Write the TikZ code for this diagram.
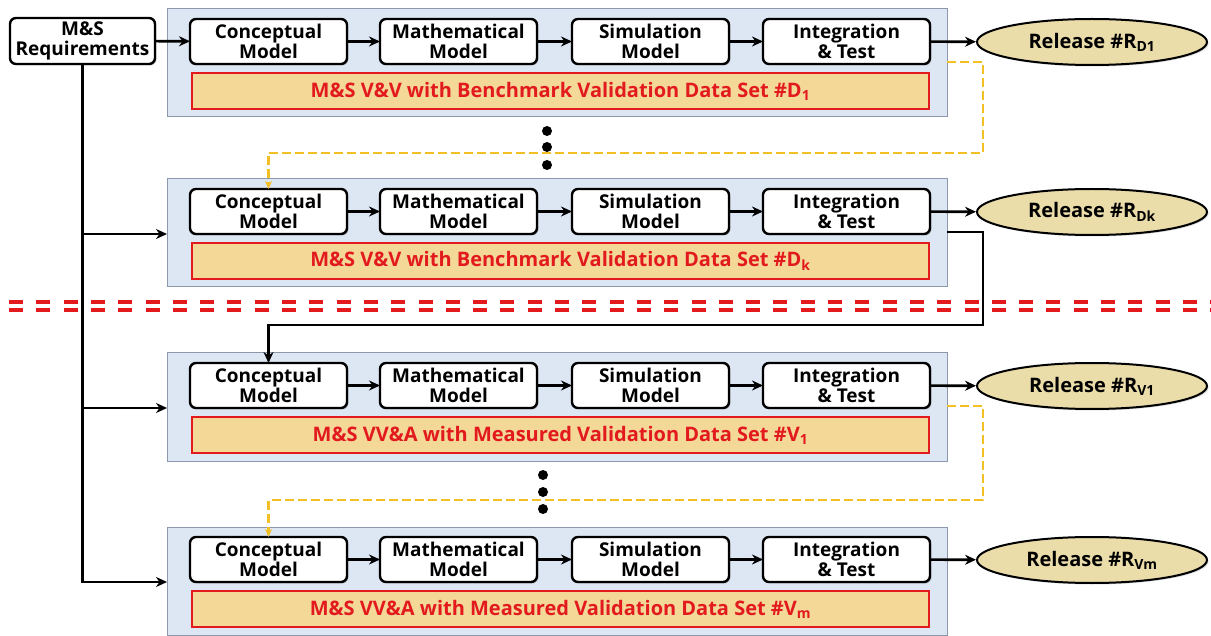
\documentclass[tikz,border=0pt]{standalone}
\usepackage{fontspec}
\setmainfont{Open Sans}
\usetikzlibrary{arrows.meta,shadows,calc,shapes.geometric}

\definecolor{panelfill}{RGB}{221,230,243}
\definecolor{paneldraw}{RGB}{140,152,172}
\definecolor{barfill}{RGB}{243,216,152}
\definecolor{barred}{RGB}{226,26,30}
\definecolor{relfill}{RGB}{235,221,170}
\definecolor{gold}{RGB}{242,192,36}

\tikzset{
  x=1pt, y=-1pt,
  txt/.style={font=\fontsize{19}{19.5}\selectfont\bfseries},
  bigtxt/.style={font=\fontsize{20}{21}\selectfont\bfseries},
  panel/.style={draw=paneldraw, fill=panelfill, line width=1pt,
    minimum width=780pt, minimum height=108pt, anchor=north west,
    inner sep=0pt, outer sep=0pt},
  stage/.style={txt, draw=black, fill=white, rounded corners=6pt, line width=2.4pt,
    minimum height=45pt, anchor=north west, inner sep=0pt, outer sep=0pt,
    align=center,
    drop shadow={shadow xshift=1.5pt, shadow yshift=-1.5pt, opacity=0.3}},
  vvbar/.style={bigtxt, draw=barred, fill=barfill, line width=1.8pt,
    minimum width=737pt, minimum height=36pt, anchor=north west,
    inner sep=0pt, outer sep=0pt, text=barred},
  release/.style={bigtxt, ellipse, draw=black, fill=relfill, line width=2pt,
    minimum width=230pt, minimum height=46pt, inner sep=0pt,
    drop shadow={shadow xshift=1.5pt, shadow yshift=-1.5pt, opacity=0.3}},
  flow/.style={line width=2.6pt, -{Stealth[length=11pt,width=10pt]}},
  loopback/.style={draw=gold, line width=2.2pt, dash pattern=on 9pt off 4pt,
    -{Stealth[length=8pt,width=7pt,fill=gold]}},
  divider/.style={draw=barred, line width=3.6pt, dash pattern=on 14pt off 13.3pt},
}

\begin{document}
\begin{tikzpicture}
\useasboundingbox (0,0) rectangle (1211,636);

% requirements box
\node[stage, minimum width=145pt, minimum height=46pt] (req) at (10,18)
  {M\&S\\Requirements};

% four development cycles
\foreach \r/\py/\bartext/\reltext in {
  1/9/{M\&S V\&V with Benchmark Validation Data Set \#D\textsubscript{1}}/{D1},
  2/179/{M\&S V\&V with Benchmark Validation Data Set \#D\textsubscript{k}}/{Dk},
  3/353/{M\&S VV\&A with Measured Validation Data Set \#V\textsubscript{1}}/{V1},
  4/527/{M\&S VV\&A with Measured Validation Data Set \#V\textsubscript{m}}/{Vm}}{
  \node[panel] (p\r) at (167,\py) {};
  \node[stage, minimum width=157pt] (c\r) at (190,\py+10) {Conceptual\\Model};
  \node[stage, minimum width=157pt] (m\r) at (380,\py+10) {Mathematical\\Model};
  \node[stage, minimum width=157pt] (s\r) at (572,\py+10) {Simulation\\Model};
  \node[stage, minimum width=167pt] (i\r) at (763,\py+10) {Integration\\\& Test};
  \node[vvbar] (b\r) at (192,\py+64) {\bartext};
  \node[release] (r\r) at (1092,\py+33) {Release \#R\textsubscript{\reltext}};
  \draw[flow] (c\r) -- (m\r);
  \draw[flow] (m\r) -- (s\r);
  \draw[flow] (s\r) -- (i\r);
  \draw[flow] (i\r) -- (r\r);
}

% requirements feed every cycle
\draw[flow] (req) -- (c1);
\draw[flow] (req.south) |- (p2.west |- c2.south);
\draw[flow] (req.south) |- (p3.west |- c3.south);
\draw[flow] (req.south) |- (p4.west |- c4.south);

% iterations with further data sets
\coordinate (yA) at ($(p1.east |- i1.south)+(0,-2)$);
\coordinate (yB) at (983,153);
\draw[loopback] (yA) -| (yB) -| (c2.north);
\coordinate (yC) at ($(p3.east |- i3.south)+(0,-2)$);
\coordinate (yD) at (983,500);
\draw[loopback] (yC) -| (yD) -| (c3.north |- c4.north);

% hand-over from benchmark to measured data
\coordinate (kA) at ($(p2.east |- i2.south)+(0,-2)$);
\coordinate (kB) at (983,325);
\draw[flow] (kA) -| (kB) -| (c3.north);

% separator between the two phases
\draw[divider] (9,302) -- (1211,302);
\draw[divider] (9,310) -- (1211,310);

% ellipsis dots
\foreach \d/\y in {1/131,2/147,3/165} \fill (547,\y) circle (5pt);
\foreach \d/\y in {1/475,2/492,3/509} \fill (543,\y) circle (5pt);
\end{tikzpicture}
\end{document}
